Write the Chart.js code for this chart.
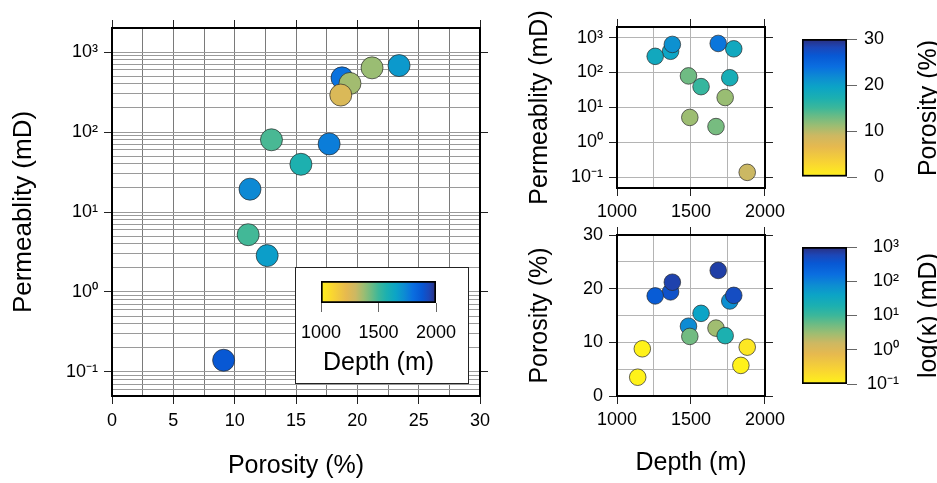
<!DOCTYPE html>
<html>
<head>
<meta charset="utf-8">
<script src="https://cdn.jsdelivr.net/npm/chart.js@4.4.1/dist/chart.umd.min.js"></script>
<style>
  body { margin: 0; width: 937px; height: 483px; overflow: hidden; background: #fff; position: relative; }
  canvas { position: absolute; }
  #inset { position: absolute; left: 295px; top: 267px; width: 172px; height: 115px; border: 1px solid #222; background: #fff; }
  #inset canvas { left: 0; top: 0; }
</style>
</head>
<body>
<canvas id="main" width="500" height="483" style="left:0;top:0"></canvas>
<canvas id="permDepth" width="270" height="232" style="left:520px;top:0"></canvas>
<canvas id="porDepth" width="270" height="268" style="left:520px;top:215px"></canvas>
<canvas id="porBar" width="147" height="215" style="left:790px;top:0"></canvas>
<canvas id="permBar" width="147" height="268" style="left:790px;top:215px"></canvas>
<div id="inset"><canvas id="depthBar" width="172" height="115"></canvas></div>
<script>
// samples, in drawing order
const depth = [1762, 1789, 1362, 1374, 1258, 1483, 1492, 1669, 1731, 1568, 1684, 1880, 1171, 1140, 1837];
const porosity = [17.7, 18.75, 19.4, 21.2, 18.65, 13.0, 11.1, 12.65, 11.25, 15.4, 23.4, 9.1, 8.8, 3.5, 5.7];
const permeability = [71, 476, 405, 635, 290, 80, 5.2, 2.85, 19.3, 39.5, 678, 0.14, null, null, null];

const depthRange = [1000, 2000];
const porosityRange = [0, 30];
const permRange = [0.1, 1000];
const permAxisRange = [0.05, 2000];

const colorStops = [
  [0.00, '#fff21a'], [0.10, '#f9d532'], [0.22, '#e6b94f'], [0.30, '#cdb862'],
  [0.37, '#9dbd72'], [0.44, '#6abb85'], [0.50, '#3cb79a'], [0.57, '#1cb0b0'],
  [0.65, '#0ca4c6'], [0.72, '#0d8dd2'], [0.80, '#0a6ee0'], [0.88, '#0858d4'],
  [0.94, '#1c47b8'], [1.00, '#2b2d7c'],
];

const FONT = '"Liberation Sans", Arial, Helvetica, sans-serif';
Chart.defaults.font.family = FONT;
Chart.defaults.font.size = 18;
Chart.defaults.color = '#000';
Chart.defaults.animation = false;
Chart.defaults.responsive = false;
Chart.defaults.plugins.legend.display = false;
Chart.defaults.plugins.tooltip.enabled = false;

function hexRgb(h) {
  return [1, 3, 5].map(i => parseInt(h.slice(i, i + 2), 16));
}

function cmap(t) {
  t = Math.max(0, Math.min(1, t));
  for (let i = 1; i < colorStops.length; i++) {
    const [t1, c1] = colorStops[i];
    if (t <= t1) {
      const [t0, c0] = colorStops[i - 1];
      const f = (t - t0) / (t1 - t0);
      const a = hexRgb(c0), b = hexRgb(c1);
      return 'rgb(' + a.map((v, k) => Math.round(v + (b[k] - v) * f)).join(',') + ')';
    }
  }
  return colorStops[colorStops.length - 1][1];
}

const depthColor = d => cmap((d - depthRange[0]) / (depthRange[1] - depthRange[0]));
const porosityColor = p => cmap((p - porosityRange[0]) / (porosityRange[1] - porosityRange[0]));
const permColor = k => k === null ? cmap(0)
  : cmap((Math.log10(k) - Math.log10(permRange[0])) / (Math.log10(permRange[1]) - Math.log10(permRange[0])));

function barGradient(ctx, horizontal) {
  const a = ctx.chart.chartArea;
  if (!a) return null;
  const g = horizontal
    ? ctx.chart.ctx.createLinearGradient(a.left, 0, a.right, 0)
    : ctx.chart.ctx.createLinearGradient(0, a.bottom, 0, a.top);
  colorStops.forEach(([t, c]) => g.addColorStop(t, c));
  return g;
}

// log helpers
const SUP = { '-': '\u207B', '0': '\u2070', '1': '\u00B9', '2': '\u00B2', '3': '\u00B3' };
const isDecade = v => Math.abs(Math.log10(v) - Math.round(Math.log10(v))) < 1e-9;
const powLabel = v => '10' + String(Math.round(Math.log10(v))).split('').map(c => SUP[c]).join('');

function logGrid(min, max, decadesOnly) {
  const out = [];
  for (let e = -2; e <= 3; e++) {
    for (let m = 1; m <= 9; m++) {
      if (decadesOnly && m > 1) continue;
      const v = +(m * Math.pow(10, e)).toPrecision(6);
      if (v >= min * 0.999999 && v <= max * 1.000001) out.push({ value: v });
    }
  }
  return out;
}

const frame = { display: true, color: '#000', width: 2 };
const hide = 'rgba(0,0,0,0)';

function edgeAxis(type, position, min, max, size, extra) {
  return Object.assign({
    type, position, min, max, bounds: 'data',
    ticks: { display: false },
    grid: { drawOnChartArea: false, tickLength: 8, tickColor: '#222' },
    border: frame,
    afterFit: s => { if (s.isHorizontal()) s.height = size; else s.width = size; },
  }, extra);
}

function points(xs, ys) {
  return xs.map((x, i) => ({ x, y: ys[i] }));
}

// porosity vs permeability, coloured by depth
new Chart(document.getElementById('main'), {
  type: 'scatter',
  data: {
    datasets: [{
      data: points(porosity, permeability),
      pointRadius: 11,
      pointBorderWidth: 0.7,
      pointBorderColor: '#2a2a2a',
      pointBackgroundColor: c => depthColor(depth[c.dataIndex]),
    }],
  },
  options: {
    layout: { padding: 0 },
    scales: {
      x: {
        type: 'linear', position: 'bottom', min: 0, max: 30, bounds: 'data',
        ticks: { stepSize: 2.5, autoSkip: false, maxRotation: 0, padding: 6,
                 callback: v => v % 5 === 0 ? String(v) : '' },
        grid: { color: '#7a7a7a', lineWidth: 1, tickLength: 8,
                tickColor: c => c.tick && c.tick.value % 5 === 0 ? '#222' : hide },
        border: frame,
        title: { display: true, text: 'Porosity (%)', font: { size: 25 }, padding: { top: 0, bottom: 2 } },
        afterFit: s => { s.height = 87; },
      },
      y: {
        type: 'logarithmic', position: 'left', min: permAxisRange[0], max: permAxisRange[1], bounds: 'data',
        afterBuildTicks: s => { s.ticks = logGrid(permAxisRange[0], permAxisRange[1], false); },
        ticks: { autoSkip: false, padding: 6, callback: v => isDecade(v) ? powLabel(v) : '' },
        grid: { color: '#9a9a9a', lineWidth: 1, tickLength: 8,
                tickColor: c => c.tick && isDecade(c.tick.value) ? '#222' : hide },
        border: frame,
        title: { display: true, text: 'Permeablity (mD)', font: { size: 26 }, padding: { top: 8, bottom: 0 } },
        afterFit: s => { s.width = 112; },
      },
      x2: edgeAxis('linear', 'top', 0, 30, 28, { ticks: { display: false, stepSize: 5 } }),
      y2: edgeAxis('logarithmic', 'right', permAxisRange[0], permAxisRange[1], 20, {
        afterBuildTicks: s => { s.ticks = logGrid(permAxisRange[0], permAxisRange[1], true); },
      }),
    },
  },
});

// shared depth axes for the two right-hand panels
function depthAxes(withTitle, bottomSize, topSize) {
  return {
    x: {
      type: 'linear', position: 'bottom', min: depthRange[0], max: depthRange[1], bounds: 'data',
      ticks: { stepSize: 250, autoSkip: false, maxRotation: 0, padding: 5,
               callback: v => v % 500 === 0 ? String(v) : '' },
      grid: { color: '#b4b4b4', lineWidth: 1, tickLength: 8,
              tickColor: c => c.tick && c.tick.value % 500 === 0 ? '#222' : hide },
      border: frame,
      title: { display: withTitle, text: 'Depth (m)', font: { size: 25 }, padding: { top: 0, bottom: 5 } },
      afterFit: s => { s.height = bottomSize; },
    },
    x2: edgeAxis('linear', 'top', depthRange[0], depthRange[1], topSize, { ticks: { display: false, stepSize: 500 } }),
  };
}

// depth vs permeability, coloured by porosity
new Chart(document.getElementById('permDepth'), {
  type: 'scatter',
  data: {
    datasets: [{
      data: points(depth, permeability),
      pointRadius: 8.3,
      pointBorderWidth: 0.7,
      pointBorderColor: '#2a2a2a',
      pointBackgroundColor: c => porosityColor(porosity[c.dataIndex]),
    }],
  },
  options: {
    layout: { padding: 0 },
    scales: Object.assign(depthAxes(false, 44, 27), {
      y: {
        type: 'logarithmic', position: 'left', min: permAxisRange[0], max: permAxisRange[1], bounds: 'data',
        afterBuildTicks: s => { s.ticks = logGrid(permAxisRange[0], permAxisRange[1], true); },
        ticks: { autoSkip: false, padding: 6, callback: v => powLabel(v) },
        grid: { color: '#b4b4b4', lineWidth: 1, tickLength: 8, tickColor: '#222' },
        border: frame,
        title: { display: true, text: 'Permeablity (mD)', font: { size: 25 }, padding: { top: 5, bottom: 0 } },
        afterFit: s => { s.width = 97; },
      },
      y2: edgeAxis('logarithmic', 'right', permAxisRange[0], permAxisRange[1], 11, {
        afterBuildTicks: s => { s.ticks = logGrid(permAxisRange[0], permAxisRange[1], true); },
      }),
    }),
  },
});

// depth vs porosity, coloured by permeability
new Chart(document.getElementById('porDepth'), {
  type: 'scatter',
  data: {
    datasets: [{
      data: points(depth, porosity),
      pointRadius: 8.3,
      pointBorderWidth: 0.7,
      pointBorderColor: '#2a2a2a',
      pointBackgroundColor: c => permColor(permeability[c.dataIndex]),
    }],
  },
  options: {
    layout: { padding: 0 },
    scales: Object.assign(depthAxes(true, 87, 20), {
      y: {
        type: 'linear', position: 'left', min: porosityRange[0], max: porosityRange[1], bounds: 'data',
        ticks: { stepSize: 5, autoSkip: false, padding: 6, callback: v => v % 10 === 0 ? String(v) : '' },
        grid: { color: '#b4b4b4', lineWidth: 1, tickLength: 8,
                tickColor: c => c.tick && c.tick.value % 10 === 0 ? '#222' : hide },
        border: frame,
        title: { display: true, text: 'Porosity (%)', font: { size: 25 }, padding: { top: 5, bottom: 0 } },
        afterFit: s => { s.width = 97; },
      },
      y2: edgeAxis('linear', 'right', porosityRange[0], porosityRange[1], 11, { ticks: { display: false, stepSize: 10 } }),
    }),
  },
});

// rotated label beside a colour bar, cut by the page edge
const sideTitle = {
  id: 'sideTitle',
  afterDraw(chart, args, opts) {
    if (!opts.text) return;
    const { ctx, chartArea } = chart;
    ctx.save();
    ctx.translate(opts.x, (chartArea.top + chartArea.bottom) / 2);
    ctx.rotate(-Math.PI / 2);
    ctx.font = '25px ' + FONT;
    ctx.fillStyle = '#000';
    ctx.textAlign = 'center';
    ctx.textBaseline = 'alphabetic';
    ctx.fillText(opts.text, 0, 0);
    ctx.restore();
  },
};

// vertical colour bar: labels right-aligned against the axis box edge
function colorBar(id, yScale, title, top, bottom, labelWidth) {
  const barLeft = 12, barRight = 57, canvasWidth = 147;
  return new Chart(document.getElementById(id), {
    type: 'bar',
    data: {
      labels: [''],
      datasets: [{
        data: [[yScale.min, yScale.max]],
        backgroundColor: c => barGradient(c, false),
        borderColor: '#000',
        borderWidth: 2,
        borderSkipped: false,
        barPercentage: 1,
        categoryPercentage: 1,
      }],
    },
    options: {
      layout: { padding: { left: barLeft, top, bottom, right: canvasWidth - barRight - labelWidth } },
      plugins: { sideTitle: { text: title, x: 146 } },
      scales: {
        x: { display: false },
        y: Object.assign({
          position: 'right', bounds: 'data',
          grid: { drawOnChartArea: false, tickLength: 10, tickColor: '#666' },
          border: { display: false },
          afterFit: s => { s.width = labelWidth; },
        }, yScale),
      },
    },
    plugins: [sideTitle],
  });
}

colorBar('porBar', {
  type: 'linear', min: porosityRange[0], max: porosityRange[1],
  ticks: { stepSize: 10, padding: 4, crossAlign: 'far' },
}, 'Porosity (%)', 39, 38, 37);

colorBar('permBar', {
  type: 'logarithmic', min: permRange[0], max: permRange[1],
  afterBuildTicks: s => { s.ticks = logGrid(permRange[0], permRange[1], true); },
  ticks: { padding: 4, crossAlign: 'far', callback: v => powLabel(v) },
}, 'log(\u03BA) (mD)', 32, 99, 52);

// horizontal depth colour bar in the inset
new Chart(document.getElementById('depthBar'), {
  type: 'bar',
  data: {
    labels: [''],
    datasets: [{
      data: [depthRange],
      backgroundColor: c => barGradient(c, true),
      borderColor: '#000',
      borderWidth: 2,
      borderSkipped: false,
      barPercentage: 1,
      categoryPercentage: 1,
    }],
  },
  options: {
    indexAxis: 'y',
    layout: { padding: { left: 25, right: 32, top: 13, bottom: 0 } },
    scales: {
      y: { display: false },
      x: {
        type: 'linear', position: 'bottom', min: depthRange[0], max: depthRange[1], bounds: 'data',
        ticks: { stepSize: 500, padding: 10, maxRotation: 0, callback: v => String(v) },
        grid: { drawOnChartArea: false, tickLength: 9, tickColor: '#666' },
        border: { display: false },
        title: { display: true, text: 'Depth (m)', font: { size: 25 }, padding: { top: 0, bottom: 5 } },
        afterFit: s => { s.height = 80; s.paddingLeft = 0; s.paddingRight = 0; },
      },
    },
  },
});
</script>
</body>
</html>
